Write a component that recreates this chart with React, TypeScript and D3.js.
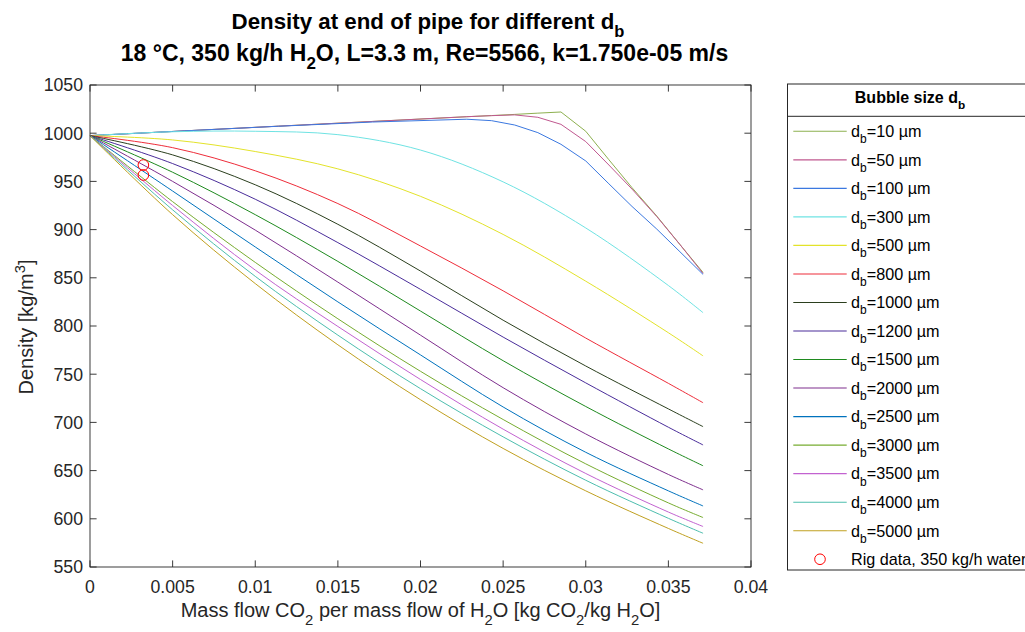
import { useMemo } from "react";
import { scaleLinear, line, curveCatmullRom, curveLinear } from "d3";

const WIDTH = 1025;
const HEIGHT = 632;
const PLOT = { left: 90, right: 751, top: 85, bottom: 567 };
const FONT = "'Liberation Sans', Arial, Helvetica, sans-serif";
const AXIS = "#262626";

// x ticks / y ticks
const X_TICKS = [0, 0.005, 0.01, 0.015, 0.02, 0.025, 0.03, 0.035, 0.04];
const X_TICK_LABELS = ["0", "0.005", "0.01", "0.015", "0.02", "0.025", "0.03", "0.035", "0.04"];
const Y_TICKS = [550, 600, 650, 700, 750, 800, 850, 900, 950, 1000, 1050];

// sample positions (kg CO2 / kg H2O)
const X_FINE = [0, 0.0057, 0.0114, 0.0171, 0.0228, 0.0243, 0.0257, 0.0271, 0.0285, 0.03, 0.0314, 0.0328, 0.0343, 0.0357, 0.0371];
const X_GRID = [0, 0.005, 0.01, 0.015, 0.02, 0.025, 0.03, 0.035, 0.0371];

// density [kg/m3] per bubble size
const D10 = [997.5, 1002.4, 1007.3, 1012.2, 1017.1, 1018.3, 1019.5, 1020.8, 1022, 1002, 972.5, 943.5, 914, 884.5, 855.5];
const D50 = [997.5, 1002.4, 1007.3, 1012.2, 1017.1, 1018.2, 1019, 1016.5, 1009.2, 991.3, 967, 942, 913.5, 884.5, 854.5];
const D100 = [997.5, 1002.4, 1007.2, 1011.6, 1014.5, 1013, 1008.5, 1000.6, 988.5, 971.2, 947.5, 924, 900.5, 877, 853.5];
const D300 = [997.5, 1001.5, 1002, 998.5, 982.5, 949.5, 901.7, 842, 813.8];
const D500 = [997.5, 993, 981, 963, 934.5, 895, 846.5, 793, 769];
const D800 = [997.5, 985, 961, 927, 883, 836.5, 787.5, 740.5, 720.4];
const D1000 = [997.5, 977.5, 946.5, 905.5, 857, 806, 758.5, 714, 695.6];
const D1200 = [997.5, 968.5, 931.5, 886.5, 838, 788.5, 741, 695, 676.6];
const D1500 = [997.5, 959.5, 915.5, 867, 815.5, 764, 716.5, 672.5, 655];
const D2000 = [997.5, 950, 899.5, 845.5, 790.5, 736, 688, 646, 630];
const D2500 = [997.5, 940, 882, 825, 770, 716, 669, 629, 613.3];
const D3000 = [997.5, 929, 866, 807.5, 753, 703, 657, 616.5, 601.3];
const D3500 = [997.5, 925, 858, 799.5, 744.5, 693, 647, 607, 592];
const D4000 = [997.5, 920.5, 851.5, 790.5, 735, 685, 640, 600.5, 585];
const D5000 = [997.5, 915.5, 844, 780.5, 723.5, 673, 629, 590, 574.6];

// rig measurements
const RIG_X = [0.00323, 0.00323];
const RIG_Y = [967, 956.6];

const SIZES = ["10", "50", "100", "300", "500", "800", "1000", "1200", "1500", "2000", "2500", "3000", "3500", "4000", "5000"];
const COLORS = ["#8db04f", "#c0588f", "#3b78e0", "#6fe3e3", "#e3e32a", "#ee2d3a", "#2b3f1e", "#4a2d9a", "#1f8a1f", "#7e2f8e", "#0072bd", "#77ac30", "#c262d0", "#4dbeae", "#c0a020"];
const VALUES = [D10, D50, D100, D300, D500, D800, D1000, D1200, D1500, D2000, D2500, D3000, D3500, D4000, D5000];

type Seg = { t: string; s?: "sub" | "sup" };

function Rich({ segs, size, ...rest }: { segs: Seg[]; size: number; [k: string]: any }) {
  let offset = 0;
  return (
    <text fontSize={size} fontFamily={FONT} {...rest}>
      {segs.map((seg, i) => {
        const target = seg.s === "sub" ? size * 0.38 : seg.s === "sup" ? -size * 0.42 : 0;
        const dy = target - offset;
        offset = target;
        return (
          <tspan key={i} dy={dy} fontSize={seg.s ? size * 0.74 : size}>
            {seg.t}
          </tspan>
        );
      })}
    </text>
  );
}

export default function App() {
  const x = useMemo(() => scaleLinear().domain([0, 0.04]).range([PLOT.left, PLOT.right]), []);
  const y = useMemo(() => scaleLinear().domain([550, 1050]).range([PLOT.bottom, PLOT.top]), []);

  const paths = VALUES.map((vals, i) => {
    const xs = vals.length === X_FINE.length ? X_FINE : X_GRID;
    const gen = line<number>()
      .x((_, k) => x(xs[k]))
      .y((v) => y(v))
      .curve(xs === X_FINE ? curveLinear : curveCatmullRom.alpha(0.5));
    return { d: gen(vals) ?? "", color: COLORS[i] };
  });

  const tick = 6.6;
  const legendTop = 131.3;
  const rowH = 28.53;

  return (
    <div style={{ position: "absolute", left: 0, top: 0 }}>
      <svg width={WIDTH} height={HEIGHT} viewBox={`0 0 ${WIDTH} ${HEIGHT}`} style={{ display: "block", background: "#fff" }}>
        <rect x={0} y={0} width={WIDTH} height={HEIGHT} fill="#fff" />

        {/* data */}
        {paths.map((p, i) => (
          <path key={i} d={p.d} fill="none" stroke={p.color} strokeWidth={1} />
        ))}
        {RIG_X.map((v, i) => (
          <circle key={i} cx={x(v)} cy={y(RIG_Y[i])} r={5.3} fill="none" stroke="#ff0000" strokeWidth={1} />
        ))}

        {/* axes box */}
        <rect x={PLOT.left} y={PLOT.top} width={PLOT.right - PLOT.left} height={PLOT.bottom - PLOT.top} fill="none" stroke={AXIS} strokeWidth={0.9} />
        {X_TICKS.map((t, i) => (
          <g key={i}>
            <line x1={x(t)} x2={x(t)} y1={PLOT.bottom} y2={PLOT.bottom - tick} stroke={AXIS} strokeWidth={0.9} />
            <line x1={x(t)} x2={x(t)} y1={PLOT.top} y2={PLOT.top + tick} stroke={AXIS} strokeWidth={0.9} />
            <text x={x(t)} y={593} textAnchor="middle" fontSize={17.7} fontFamily={FONT} fill={AXIS}>
              {X_TICK_LABELS[i]}
            </text>
          </g>
        ))}
        {Y_TICKS.map((t) => (
          <g key={t}>
            <line x1={PLOT.left} x2={PLOT.left + tick} y1={y(t)} y2={y(t)} stroke={AXIS} strokeWidth={0.9} />
            <line x1={PLOT.right} x2={PLOT.right - tick} y1={y(t)} y2={y(t)} stroke={AXIS} strokeWidth={0.9} />
            <text x={83} y={y(t) + 6.3} textAnchor="end" fontSize={17.7} fontFamily={FONT} fill={AXIS}>
              {t}
            </text>
          </g>
        ))}

        {/* axis labels */}
        <Rich
          x={420.5}
          y={617}
          size={20}
          textAnchor="middle"
          fill={AXIS}
          segs={[
            { t: "Mass flow CO" },
            { t: "2", s: "sub" },
            { t: " per mass flow of H" },
            { t: "2", s: "sub" },
            { t: "O [kg CO" },
            { t: "2", s: "sub" },
            { t: "/kg H" },
            { t: "2", s: "sub" },
            { t: "O]" },
          ]}
        />
        <Rich
          transform="translate(33,327) rotate(-90)"
          x={0}
          y={0}
          size={20}
          textAnchor="middle"
          fill={AXIS}
          segs={[{ t: "Density [kg/m" }, { t: "3", s: "sup" }, { t: "]" }]}
        />

        {/* title */}
        <Rich
          x={428}
          y={29}
          size={22.3}
          fontWeight="bold"
          textAnchor="middle"
          fill="#000"
          segs={[{ t: "Density at end of pipe for different d" }, { t: "b", s: "sub" }]}
        />
        <Rich
          x={424.5}
          y={60.5}
          size={23}
          fontWeight="bold"
          textAnchor="middle"
          fill="#000"
          segs={[{ t: "18 °C, 350 kg/h H" }, { t: "2", s: "sub" }, { t: "O, L=3.3 m, Re=5566, k=1.750e-05 m/s" }]}
        />

        {/* legend */}
        <rect x={787.5} y={84} width={250} height={486} fill="#fff" stroke={AXIS} strokeWidth={1} />
        <line x1={787.5} x2={1037} y1={116.3} y2={116.3} stroke={AXIS} strokeWidth={1} />
        <Rich
          x={910}
          y={103.3}
          size={16}
          fontWeight="bold"
          textAnchor="middle"
          fill="#000"
          segs={[{ t: "Bubble size d" }, { t: "b", s: "sub" }]}
        />
        {SIZES.map((s, i) => {
          const cy = legendTop + i * rowH;
          return (
            <g key={s}>
              <line x1={793.3} x2={846.7} y1={cy} y2={cy} stroke={COLORS[i]} strokeWidth={1.1} />
              <Rich x={851} y={cy + 5.8} size={16.2} fill="#000" segs={[{ t: "d" }, { t: "b", s: "sub" }, { t: `=${s} µm` }]} />
            </g>
          );
        })}
        <circle cx={820} cy={legendTop + 15 * rowH} r={5.3} fill="none" stroke="#ff0000" strokeWidth={1} />
        <text x={851} y={legendTop + 15 * rowH + 5.5} fontSize={16.2} fontFamily={FONT} fill="#000">
          Rig data, 350 kg/h water
        </text>
      </svg>
    </div>
  );
}
